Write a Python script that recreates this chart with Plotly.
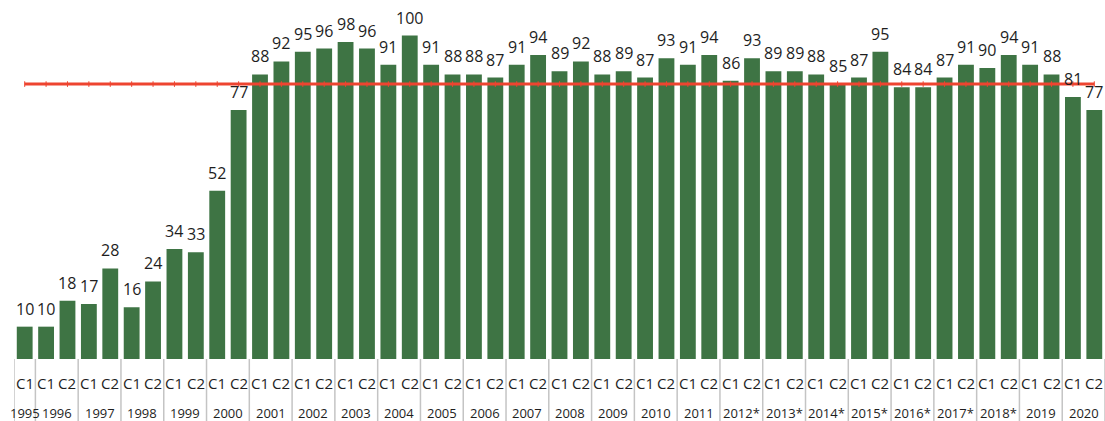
import plotly.graph_objects as go

years = ['1995', '1996', '1997', '1998', '1999', '2000', '2001', '2002', '2003',
         '2004', '2005', '2006', '2007', '2008', '2009', '2010', '2011',
         '2012*', '2013*', '2014*', '2015*', '2016*', '2017*', '2018*', '2019', '2020']
halves_per_year = [['C1']] + [['C1', 'C2']] * (len(years) - 1)

values = [10,
          10, 18,
          17, 28,
          16, 24,
          34, 33,
          52, 77,
          88, 92,
          95, 96,
          98, 96,
          91, 100,
          91, 88,
          88, 87,
          91, 94,
          89, 92,
          88, 89,
          87, 93,
          91, 94,
          86, 93,
          89, 89,
          88, 85,
          87, 95,
          84, 84,
          87, 91,
          90, 94,
          91, 88,
          81, 77]
target = 85

BAR = '#3e7444'
RED = '#ee4430'
TXT = '#1e1e1e'
FONT = 'Open Sans'

labels = [h for hs in halves_per_year for h in hs]
xs = list(range(len(values)))

fig = go.Figure()
fig.add_trace(go.Bar(x=xs, y=values, marker=dict(color=BAR, line=dict(width=0)),
                     width=0.74, hoverinfo='skip'))
fig.add_trace(go.Scatter(x=xs, y=[target] * len(xs), mode='lines+markers',
                         line=dict(color=RED, width=3),
                         marker=dict(symbol='line-ns-open', size=4,
                                     line=dict(color='#e23d27', width=1)),
                         hoverinfo='skip'))

ann = []
shapes = []
for i, v in enumerate(values):
    ann.append(dict(x=i, y=v, xref='x', yref='y', text=str(v), showarrow=False,
                    yanchor='bottom', yshift=5, font=dict(family=FONT, size=16, color=TXT)))
    ann.append(dict(x=i, y=0, xref='x', yref='paper', text=labels[i], showarrow=False,
                    yanchor='middle', yshift=-23.5, font=dict(family=FONT, size=15, color=TXT)))

pos = 0
for yr, hs in zip(years, halves_per_year):
    n = len(hs)
    start = pos - 0.5
    center = pos + (n - 1) / 2
    ann.append(dict(x=center, y=0, xref='x', yref='paper', text=yr, showarrow=False,
                    yanchor='middle', yshift=-53.5, font=dict(family=FONT, size=13, color=TXT)))
    shapes.append(dict(type='line', xref='x', yref='paper', x0=start, x1=start,
                       y0=0, y1=-0.2, line=dict(color='#c4c4c4', width=1.5)))
    pos += n
shapes.append(dict(type='line', xref='x', yref='paper', x0=pos - 0.5, x1=pos - 0.5,
                   y0=0, y1=-0.2, line=dict(color='#c4c4c4', width=1.5)))

fig.update_layout(
    width=1105, height=421,
    margin=dict(l=14, r=0, t=0, b=62),
    paper_bgcolor='white', plot_bgcolor='white',
    showlegend=False,
    xaxis=dict(range=[-0.5, len(values) - 0.5], showticklabels=False, showgrid=False,
               zeroline=False, showline=False, ticks=''),
    yaxis=dict(range=[0, 111], visible=False, showgrid=False, zeroline=False),
    annotations=ann, shapes=shapes,
    bargap=0.26,
)

fig.write_html('out.html', config={'displayModeBar': False},
               post_script="document.body.style.margin='0';document.body.style.overflow='hidden';")
